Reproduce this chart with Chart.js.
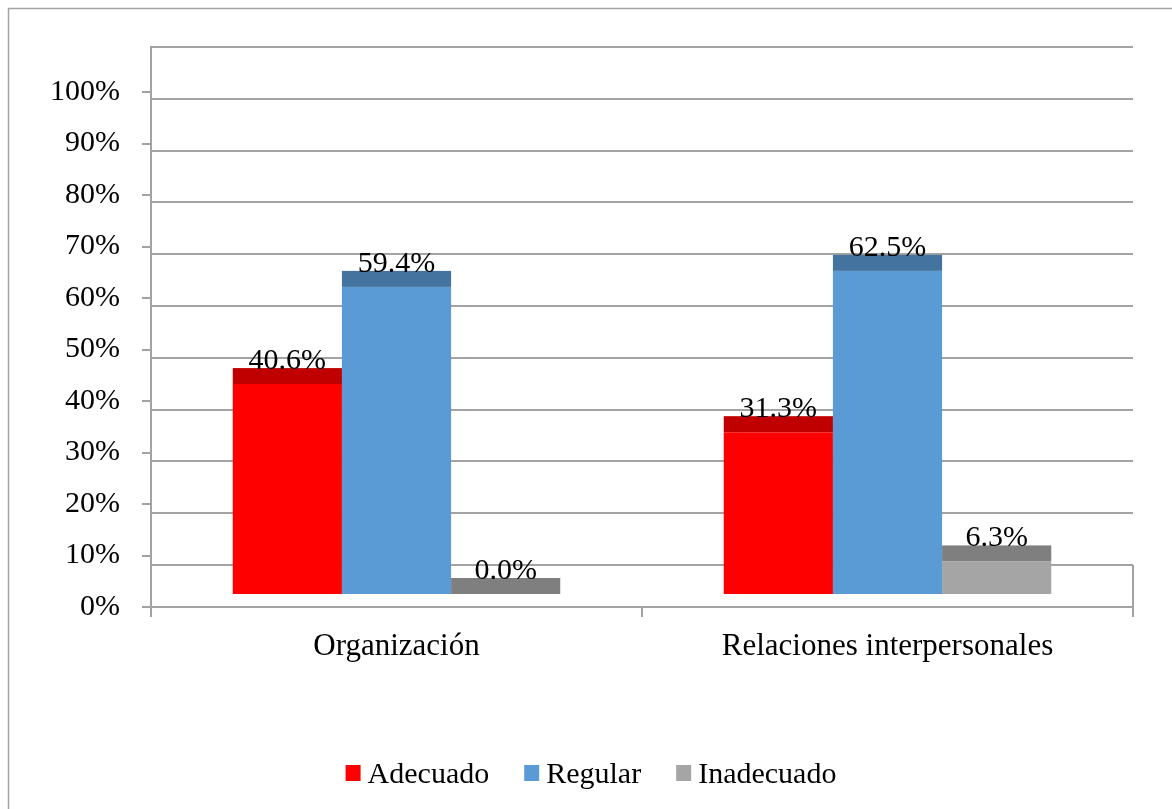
<!DOCTYPE html>
<html>
<head>
<meta charset="utf-8">
<script src="https://cdn.jsdelivr.net/npm/chart.js@4.4.1/dist/chart.umd.min.js"></script>
<style>
body{margin:0;background:#fff;}
#wrap{position:relative;width:1172px;height:809px;}
</style>
</head>
<body>
<div id="wrap"><canvas id="chart"></canvas></div>
<script>
// data
const categories = ["Organización", "Relaciones interpersonales"];
const seriesNames = ["Adecuado", "Regular", "Inadecuado"];
const adecuado = [40.6, 31.3];
const regular = [59.4, 62.5];
const inadecuado = [0.0, 6.3];

// styles
const frontColors = ["#ff0000", "#5b9bd5", "#a5a5a5"];
const topColors = ["#c00000", "#44739f", "#7f7f7f"];
const gridColor = "#a3a3a3";
const fontFamily = "'Liberation Serif', 'Times New Roman', serif";
const capHeight = 16;

// 3d-ish tops, value labels, outer frame, legend
const barTops = {
  id: "barTops",
  beforeDraw(chart){
    const ctx = chart.ctx;
    ctx.save();
    ctx.strokeStyle = gridColor;
    ctx.lineWidth = 1.5;
    ctx.strokeRect(8.5, 8.5, chart.width + 20, chart.height + 20);
    ctx.restore();
  },
  afterDatasetsDraw(chart){
    const ctx = chart.ctx;
    const area = chart.chartArea;
    const g = chart.scales.yGrid;
    ctx.save();
    // right edge of the floor
    ctx.strokeStyle = gridColor;
    ctx.lineWidth = 2;
    ctx.beginPath();
    ctx.moveTo(area.right, g.getPixelForValue(0));
    ctx.lineTo(area.right, area.bottom);
    ctx.stroke();

    chart.data.datasets.forEach((ds, i) => {
      chart.getDatasetMeta(i).data.forEach(bar => {
        ctx.fillStyle = topColors[i];
        ctx.fillRect(bar.x - bar.width / 2, bar.y - capHeight, bar.width, capHeight);
      });
    });
    ctx.font = "30px " + fontFamily;
    ctx.fillStyle = "#000";
    ctx.textAlign = "center";
    ctx.textBaseline = "alphabetic";
    chart.data.datasets.forEach((ds, i) => {
      chart.getDatasetMeta(i).data.forEach((bar, j) => {
        ctx.fillText(ds.data[j].toFixed(1) + "%", bar.x, bar.y - capHeight + 1);
      });
    });
    ctx.restore();
  },
  afterDraw(chart){
    // legend: small square, short gap, name
    const ctx = chart.ctx;
    ctx.save();
    ctx.font = "30px " + fontFamily;
    ctx.textAlign = "left";
    ctx.textBaseline = "alphabetic";
    const widths = chart.data.datasets.map(ds => 15 + 7 + ctx.measureText(ds.label).width);
    const total = widths.reduce((a, b) => a + b, 0) + 35 * (widths.length - 1);
    let x = 591 - total / 2;
    chart.data.datasets.forEach((ds, i) => {
      ctx.fillStyle = ds.backgroundColor;
      ctx.fillRect(x, 765, 15, 16);
      ctx.fillStyle = "#000";
      ctx.fillText(ds.label, x + 22, 783);
      x += widths[i] + 35;
    });
    ctx.restore();
  }
};

new Chart(document.getElementById("chart"), {
  type: "bar",
  data: {
    labels: categories,
    datasets: [
      {label: seriesNames[0], data: adecuado, backgroundColor: frontColors[0], yAxisID: "yBar"},
      {label: seriesNames[1], data: regular, backgroundColor: frontColors[1], yAxisID: "yBar"},
      {label: seriesNames[2], data: inadecuado, backgroundColor: frontColors[2], yAxisID: "yBar"}
    ]
  },
  options: {
    responsive: true,
    maintainAspectRatio: false,
    animation: false,
    layout: {padding: {left: 0, right: 39, top: 47, bottom: 0}},
    datasets: {bar: {barPercentage: 1, categoryPercentage: 0.667, borderWidth: 0}},
    plugins: {
      legend: {display: false},
      tooltip: {enabled: false}
    },
    scales: {
      x: {
        offset: true,
        grid: {offset: true, drawOnChartArea: false, tickLength: 10, color: gridColor, lineWidth: 2},
        border: {color: gridColor, width: 2},
        ticks: {color: "#000", padding: 11, font: {family: fontFamily, size: 31}},
        afterFit(s){ s.height = 202; }
      },
      y: {
        position: "left",
        min: 0,
        max: 108.74,
        grid: {drawOnChartArea: false, tickLength: 9, color: gridColor, lineWidth: 2},
        border: {color: gridColor, width: 2},
        ticks: {stepSize: 10, includeBounds: false, padding: 22, color: "#000",
          font: {family: fontFamily, size: 30}, callback: v => v + "%"},
        afterFit(s){ s.width = 151; }
      },
      yGrid: {
        position: "right",
        min: -8.11,
        max: 100,
        grid: {drawTicks: false, color: gridColor, lineWidth: 2},
        border: {display: false},
        ticks: {display: false, stepSize: 10},
        afterFit(s){ s.width = 0; }
      },
      yBar: {
        position: "right",
        display: false,
        min: -2.515,
        max: 105.8
      }
    }
  },
  plugins: [barTops]
});
</script>
</body>
</html>
